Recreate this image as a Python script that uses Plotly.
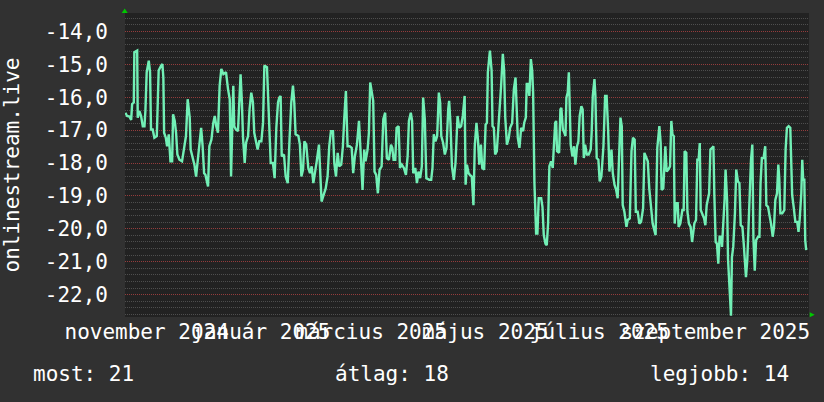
import pandas as pd
import plotly.graph_objects as go

# ---- data ----
base_date = "2024-12-01"
# days since base_date of each vertex of the line
day_offsets = [
    -26.4, -25.5, -24.2, -23.3, -22.8, -21.9, -21.6, -20.1, -19.8, -18.9,
    -18.0, -17.1, -16.2, -15.7, -15.0, -13.9, -13.2, -12.7, -11.8, -10.9,
    -9.6, -8.6, -7.3, -6.6, -6.1, -5.7, -4.8, -4.1, -3.2, -2.3,
    -1.4, -0.9, 0.0, 0.7, 1.4, 2.5, 3.9, 4.8, 6.0, 6.9,
    8.0, 8.5, 9.6, 10.5, 11.4, 12.4, 13.5, 14.1, 14.9, 15.7,
    16.4, 17.3, 17.8, 18.5, 19.6, 20.6, 21.4, 22.2, 23.1, 24.0,
    24.9, 26.0, 27.4, 28.5, 29.4, 30.1, 30.8, 31.3, 31.8, 32.7,
    33.8, 34.5, 35.2, 35.9, 36.5, 37.4, 38.1, 39.2, 40.0, 40.9,
    41.8, 42.5, 43.4, 44.3, 45.2, 46.3, 47.2, 47.9, 49.3, 50.4,
    51.3, 52.5, 53.4, 54.3, 55.2, 55.9, 56.6, 57.2, 58.4, 59.3,
    60.4, 61.4, 62.3, 63.2, 63.9, 64.6, 66.1, 66.9, 67.7, 68.6,
    69.3, 70.3, 71.4, 72.3, 73.2, 74.1, 75.0, 75.9, 77.1, 77.8,
    78.5, 79.6, 80.7, 81.7, 82.6, 83.5, 84.6, 85.3, 86.2, 87.1,
    87.9, 89.0, 89.9, 90.6, 91.5, 92.4, 93.5, 94.6, 95.4, 96.3,
    97.4, 98.5, 99.4, 100.4, 101.3, 102.0, 103.1, 103.8, 104.5, 105.2,
    106.1, 106.8, 107.7, 108.6, 109.5, 110.6, 111.5, 112.5, 113.4, 114.5,
    115.6, 116.3, 117.0, 117.9, 118.6, 119.7, 120.4, 121.4, 122.5, 123.6,
    124.5, 125.2, 126.2, 126.9, 127.5, 128.6, 129.5, 130.3, 131.2, 132.1,
    132.8, 133.7, 134.5, 136.1, 137.1, 137.8, 138.5, 139.4, 140.3, 141.2,
    141.9, 142.5, 143.5, 144.4, 145.3, 146.2, 146.7, 147.4, 148.2, 149.2,
    150.1, 151.2, 152.1, 153.1, 154.0, 155.0, 155.5, 156.2, 157.1, 157.8,
    158.8, 159.7, 160.4, 161.3, 162.1, 162.8, 163.7, 164.4, 165.4, 166.2,
    166.9, 167.4, 168.5, 169.4, 169.9, 170.6, 171.3, 172.2, 173.1, 173.8,
    174.5, 175.4, 176.1, 176.7, 177.6, 178.6, 179.3, 180.4, 181.3, 182.2,
    182.7, 183.4, 184.3, 185.2, 186.3, 186.8, 187.7, 188.2, 188.9, 189.6,
    190.4, 191.1, 191.6, 191.9, 192.3, 193.2, 193.9, 194.6, 195.9, 196.6,
    197.3, 198.2, 198.9, 199.6, 200.3, 201.2, 202.1, 202.6, 203.4, 203.9,
    204.4, 205.5, 206.2, 206.7, 207.5, 208.3, 208.9, 209.4, 210.1, 210.7,
    211.2, 211.7, 212.6, 213.5, 214.2, 215.1, 215.8, 216.5, 217.4, 218.1,
    218.7, 219.4, 220.3, 221.3, 222.4, 222.9, 223.5, 224.4, 224.9, 225.6,
    226.5, 227.2, 228.1, 229.2, 230.1, 230.9, 231.7, 232.4, 233.5, 234.2,
    235.1, 236.0, 236.8, 237.6, 238.3, 239.0, 239.5, 240.4, 241.5, 242.2,
    243.3, 244.2, 245.0, 245.9, 246.5, 247.5, 248.4, 249.3, 250.4, 251.1,
    252.0, 252.9, 253.7, 254.6, 255.5, 256.4, 257.1, 258.0, 259.1, 259.8,
    260.3, 261.2, 262.3, 263.0, 263.9, 264.8, 265.5, 266.1, 266.8, 267.3,
    268.0, 268.9, 269.4, 270.3, 271.4, 272.1, 272.6, 273.5, 274.1, 274.9,
    275.8, 276.6, 277.1, 277.8, 278.7, 279.4, 280.1, 280.7, 281.2, 282.1,
    283.0, 283.7, 284.4, 285.7, 286.4, 287.3, 288.0, 288.5, 289.2, 289.9,
    290.6, 291.3, 292.1, 292.6, 293.3, 294.0, 294.5, 295.3, 295.8, 296.7,
    297.4, 297.9, 298.6, 299.5, 300.2, 301.1, 301.9, 302.6, 303.5, 304.2,
    304.9, 305.4, 306.1, 306.7, 307.4, 308.1, 308.8, 309.4, 310.1, 310.8,
    311.9, 312.6, 313.2, 313.9, 314.8, 315.7, 316.3, 317.2, 318.1, 318.8,
    319.7, 320.4, 321.1, 322.0, 322.7, 323.2, 323.8, 324.8, 325.9, 326.6,
    327.3, 328.2, 329.1, 330.1, 330.9, 331.8, 332.8, 333.5, 334.1, 335.0,
    335.5, 336.0, 336.6, 337.1, 337.6,
]
rank_values = [
    -16.47, -16.57, -16.59, -16.69, -16.21, -16.16, -14.63, -14.58, -16.62, -16.42,
    -16.57, -16.88, -16.88, -16.42, -15.24, -14.89, -15.24, -16.98, -16.98, -17.23,
    -17.18, -15.19, -15.04, -14.99, -15.40, -17.08, -17.23, -17.49, -17.13, -17.95,
    -17.95, -16.52, -16.72, -17.08, -17.74, -17.90, -17.95, -17.59, -17.18, -16.06,
    -16.62, -17.59, -17.80, -18.05, -18.41, -17.90, -17.29, -16.93, -17.49, -18.31,
    -18.36, -18.66, -18.71, -17.49, -17.29, -16.78, -16.57, -16.88, -17.08, -15.65,
    -15.14, -15.30, -15.24, -15.76, -16.06, -18.41, -16.98, -15.65, -16.88, -16.98,
    -17.03, -15.96, -15.30, -16.16, -17.23, -18.00, -17.39, -17.18, -16.37, -15.86,
    -16.16, -17.08, -17.29, -17.59, -17.34, -17.34, -16.78, -15.04, -15.09, -16.88,
    -18.00, -18.00, -18.46, -16.93, -16.16, -16.01, -15.96, -17.80, -17.74, -18.41,
    -18.61, -17.23, -16.16, -15.65, -16.16, -17.13, -17.18, -17.44, -18.41, -18.20,
    -17.34, -17.44, -18.15, -18.31, -18.10, -18.61, -18.31, -17.95, -17.44, -18.61,
    -19.17, -18.97, -18.77, -18.41, -17.49, -17.03, -17.03, -18.00, -18.41, -17.69,
    -18.10, -18.05, -17.49, -16.67, -15.81, -17.49, -17.49, -17.54, -18.31, -17.80,
    -17.44, -16.72, -17.80, -18.82, -17.59, -17.95, -17.59, -17.08, -15.55, -15.76,
    -16.11, -18.26, -18.36, -18.92, -18.20, -18.10, -16.67, -16.47, -17.85, -17.90,
    -17.44, -17.54, -17.90, -17.90, -16.93, -16.88, -18.15, -18.05, -18.15, -18.36,
    -17.80, -16.72, -16.47, -16.72, -18.31, -18.15, -18.61, -18.26, -18.46, -18.10,
    -16.01, -16.67, -18.46, -18.51, -18.51, -18.15, -17.13, -17.34, -17.18, -15.86,
    -16.16, -17.18, -17.39, -17.74, -17.54, -16.37, -16.11, -16.78, -18.10, -18.51,
    -18.00, -16.57, -16.93, -16.88, -16.57, -15.96, -18.66, -18.05, -18.31, -18.36,
    -18.41, -19.28, -17.49, -16.78, -17.29, -18.05, -17.44, -18.15, -18.20, -16.83,
    -16.78, -15.24, -14.58, -15.19, -16.88, -16.93, -17.74, -17.64, -16.88, -16.57,
    -15.65, -14.68, -15.19, -16.62, -17.44, -17.23, -16.93, -16.78, -15.76, -15.40,
    -16.27, -17.23, -17.54, -16.93, -17.03, -16.78, -16.62, -15.60, -15.60, -15.96,
    -14.84, -15.19, -15.86, -18.10, -18.61, -20.14, -20.14, -19.07, -19.07, -19.33,
    -20.19, -20.45, -20.50, -19.84, -18.10, -17.95, -18.15, -17.59, -16.78, -16.72,
    -17.64, -17.69, -16.37, -16.32, -16.98, -17.08, -17.18, -16.01, -15.86, -15.24,
    -16.06, -17.44, -17.80, -17.49, -18.05, -17.49, -17.34, -16.57, -16.27, -16.37,
    -17.85, -17.44, -17.74, -17.74, -17.59, -17.08, -15.96, -15.45, -15.96, -17.85,
    -17.90, -18.56, -18.41, -17.49, -15.96, -15.96, -16.98, -18.26, -17.59, -18.31,
    -18.66, -18.82, -19.07, -17.29, -16.62, -16.88, -19.28, -19.48, -19.94, -19.73,
    -19.68, -17.64, -17.23, -17.29, -19.48, -19.48, -19.84, -19.79, -19.38, -17.69,
    -17.85, -17.95, -18.77, -19.33, -19.84, -20.04, -20.19, -17.54, -16.88, -17.39,
    -18.82, -18.77, -17.49, -18.26, -18.20, -18.10, -16.72, -17.13, -17.18, -19.84,
    -19.22, -19.22, -19.94, -19.84, -19.43, -19.43, -17.64, -17.69, -19.48, -19.84,
    -19.94, -20.40, -20.09, -19.84, -19.73, -17.90, -17.90, -17.39, -19.43, -19.53,
    -19.68, -19.89, -19.28, -18.92, -17.59, -17.54, -17.49, -18.97, -20.40, -20.45,
    -21.06, -20.24, -20.24, -20.55, -19.94, -19.07, -18.20, -19.12, -20.91, -22.18,
    -22.64, -20.86, -20.55, -19.53, -18.20, -18.56, -18.61, -19.89, -19.94, -20.45,
    -20.96, -21.47, -20.96, -20.04, -18.66, -17.90, -17.44, -20.30, -21.27, -20.35,
    -20.24, -20.24, -18.61, -17.85, -17.85, -17.49, -19.28, -19.33, -19.63, -19.84,
    -20.24, -19.94, -19.12, -18.92, -18.05, -18.46, -19.53, -19.53, -19.43, -17.59,
    -16.93, -16.88, -16.93, -18.97, -19.33, -19.79, -19.79, -20.09, -19.73, -18.92,
    -17.90, -18.51, -18.51, -20.35, -20.65,
]

y_tick_values = [-14, -15, -16, -17, -18, -19, -20, -21, -22]
y_tick_labels = ["-14,0", "-15,0", "-16,0", "-17,0", "-18,0", "-19,0", "-20,0", "-21,0", "-22,0"]

x_label_dates = ["2024-11-16", "2025-01-16", "2025-03-16", "2025-05-16", "2025-07-16", "2025-09-16"]
x_label_texts = ["november 2024", "január 2025", "március 2025", "május 2025", "július 2025", "szeptember 2025"]

y_title = "onlinestream.live"
summary_texts = ["most: 21", "átlag: 18", "legjobb: 14"]

# ---- figure ----
FONT = "DejaVu Sans Mono"
TXT = "#ffffff"
MAJOR = "#943c3c"
MINOR = "#4e4e4e"
LINE = "#72f0b6"

assert len(day_offsets) == len(rank_values)
dates = pd.Timestamp(base_date) + pd.to_timedelta(day_offsets, unit="D")

x_range = ["2024-11-04 09:30", "2025-11-05 02:30"]
y_range = [-22.68, -13.44]

fig = go.Figure()
# the line lives on the labelled (overlaying) x axis; the primary x axis draws the grid
fig.add_trace(go.Scatter(
    x=dates, y=rank_values, mode="lines", xaxis="x2", yaxis="y",
    line=dict(color=LINE, width=2.4),
    hoverinfo="skip", showlegend=False,
))

fig.update_layout(
    width=824, height=402,
    margin=dict(l=125, r=15, t=13, b=85, pad=0),
    paper_bgcolor="#313131",
    plot_bgcolor="#222222",
    font=dict(family=FONT, size=21, color=TXT),
    showlegend=False,
    xaxis=dict(
        type="date", range=x_range, automargin=False,
        showticklabels=False, ticks="",
        tick0="2024-12-01", dtick="M1",
        showgrid=True, gridcolor=MAJOR, griddash="1px,1px", gridwidth=1,
        minor=dict(dtick=7 * 86400000, tick0="2024-11-04", showgrid=True,
                   gridcolor=MINOR, griddash="1px,1px", gridwidth=1),
        zeroline=False, showline=False,
    ),
    xaxis2=dict(
        type="date", range=x_range, overlaying="x", side="bottom", anchor="y",
        automargin=False, tickangle=0,
        tickmode="array", tickvals=x_label_dates, ticktext=x_label_texts,
        showgrid=False, ticks="", zeroline=False, showline=False,
        tickfont=dict(family=FONT, size=21, color=TXT),
    ),
    yaxis=dict(
        range=y_range, automargin=False,
        tickmode="array", tickvals=y_tick_values, ticktext=y_tick_labels,
        ticks="", ticklabelstandoff=16,
        tickfont=dict(family=FONT, size=21, color=TXT),
        showgrid=True, gridcolor=MAJOR, griddash="1px,1px", gridwidth=1,
        minor=dict(dtick=0.2, tick0=-22, showgrid=True,
                   gridcolor=MINOR, griddash="1px,1px", gridwidth=1),
        zeroline=False, showline=False,
    ),
)

# y-axis title
fig.add_annotation(
    text=y_title, xref="paper", yref="paper", x=-0.1645, y=0.5,
    xanchor="center", yanchor="middle", textangle=-90, showarrow=False,
    font=dict(family=FONT, size=21, color=TXT),
)

# summary line
for txt, xp in zip(summary_texts, [-0.137, 0.304, 0.764]):
    fig.add_annotation(
        text=txt, xref="paper", yref="paper", x=xp, y=-0.189,
        xanchor="left", yanchor="middle", showarrow=False,
        font=dict(family=FONT, size=21, color=TXT),
    )

# axis arrows (rrdtool style)
ARROW = "#00c800"
fig.add_shape(type="path", xref="paper", yref="paper",
              xsizemode="pixel", ysizemode="pixel", xanchor=0, yanchor=1,
              path="M -3.3 0 L 2.7 0 L -0.3 4.6 Z",
              fillcolor=ARROW, line=dict(width=0))
fig.add_shape(type="path", xref="paper", yref="paper",
              xsizemode="pixel", ysizemode="pixel", xanchor=1, yanchor=0,
              path="M 0.7 -0.2 L 0.7 4.8 L 5.7 2.3 Z",
              fillcolor=ARROW, line=dict(width=0))

fig.write_html(
    "out.html",
    config={"displayModeBar": False},
    post_script="document.body.style.margin='0';document.body.style.background='#313131';",
)
